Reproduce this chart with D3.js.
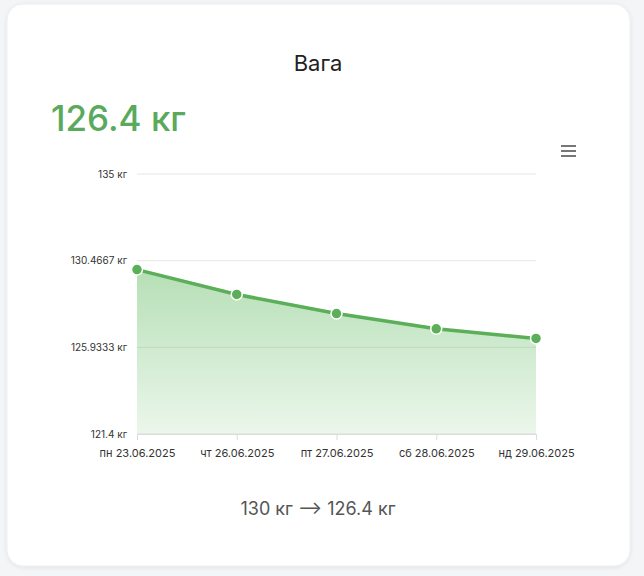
<!DOCTYPE html>
<html><head><meta charset="utf-8">
<script src="https://cdn.jsdelivr.net/npm/d3@7"></script>
<style>
html,body{margin:0;padding:0;background:#f4f5f6;}
body{width:644px;height:576px;overflow:hidden;font-family:Inter,"Helvetica Neue",Arial,"Liberation Sans",sans-serif;}
svg text{font-family:Inter,"Helvetica Neue",Arial,sans-serif;}
</style></head><body>
<svg id="c" width="644" height="576"></svg>
<script>
const dates = ["пн 23.06.2025","чт 26.06.2025","пт 27.06.2025","сб 28.06.2025","нд 29.06.2025"];
const weights = [130.0, 128.7, 127.7, 126.9, 126.4];
const yTicks = [121.4, 125.9333, 130.4667, 135];
const yTickLabels = ["121.4 кг","125.9333 кг","130.4667 кг","135 кг"];
const title = "Вага";
const current = "126.4 кг";
const summary = "130 кг ⟶ 126.4 кг";

const svg = d3.select("#c");
const defs = svg.append("defs");
const f = defs.append("filter").attr("id","sh").attr("x","-5%").attr("y","-5%").attr("width","110%").attr("height","110%");
f.append("feDropShadow").attr("dx",0).attr("dy",1).attr("stdDeviation",2).attr("flood-color","#000").attr("flood-opacity",0.08);
svg.append("rect").attr("x",7).attr("y",4).attr("width",623).attr("height",562).attr("rx",16)
  .attr("fill","#fff").attr("stroke","#eceef0").attr("filter","url(#sh)");

svg.append("text").attr("x",318).attr("y",71).attr("text-anchor","middle")
  .attr("font-size",22).attr("fill","#222").text(title);
svg.append("text").attr("x",51).attr("y",131).attr("font-size",35).attr("font-weight",500).attr("fill","#5aa95d").text(current);

// menu icon
[146,151,156].forEach(yy=>svg.append("rect").attr("x",561).attr("y",yy-1).attr("width",15).attr("height",2).attr("fill","#777"));

const x = d3.scalePoint().domain(dates).range([137,536]);
const y = d3.scaleLinear().domain([121.4,135]).range([434,174]);

const g = svg.append("g");
g.selectAll("line.grid").data(yTicks).join("line")
  .attr("x1",137).attr("x2",536).attr("y1",d=>y(d)).attr("y2",d=>y(d))
  .attr("stroke","#e6e6e6").attr("stroke-width",1);
g.selectAll("text.yl").data(yTicks).join("text")
  .attr("x",127).attr("y",d=>y(d)+3.5).attr("text-anchor","end")
  .attr("font-size",10).attr("fill","#333").text((d,i)=>yTickLabels[i]);

const grad = defs.append("linearGradient").attr("id","ag").attr("x1",0).attr("y1",0).attr("x2",0).attr("y2",1);
grad.append("stop").attr("offset","0%").attr("stop-color","#5cb85c").attr("stop-opacity",0.45);
grad.append("stop").attr("offset","100%").attr("stop-color","#5cb85c").attr("stop-opacity",0.12);

const data = dates.map((d,i)=>({d,v:weights[i]}));
g.append("path").datum(data).attr("fill","url(#ag)")
  .attr("d",d3.area().x(p=>x(p.d)).y0(y(121.4)).y1(p=>y(p.v)));

const xa = g.append("g").attr("transform","translate(0,434)").call(d3.axisBottom(x).tickSize(6).tickPadding(11));
xa.select(".domain").attr("stroke","#dcdcdc").attr("d","M137,0.5H536");
xa.selectAll(".tick line").attr("stroke","#dcdcdc");
xa.selectAll(".tick text").attr("font-size",11).attr("fill","#333").attr("font-family","Inter, sans-serif").attr("dy","0.5em");

g.append("path").datum(data).attr("fill","none").attr("stroke","#5aaf58").attr("stroke-width",3.5)
  .attr("d",d3.line().x(p=>x(p.d)).y(p=>y(p.v)));
g.selectAll("circle").data(data).join("circle")
  .attr("cx",p=>x(p.d)).attr("cy",p=>y(p.v)).attr("r",5.5)
  .attr("fill","#5aaf58").attr("stroke","#fff").attr("stroke-width",1.5);

svg.append("text").attr("x",318).attr("y",515).attr("text-anchor","middle")
  .attr("font-size",18).attr("fill","#555").text(summary);
</script>
</body></html>
